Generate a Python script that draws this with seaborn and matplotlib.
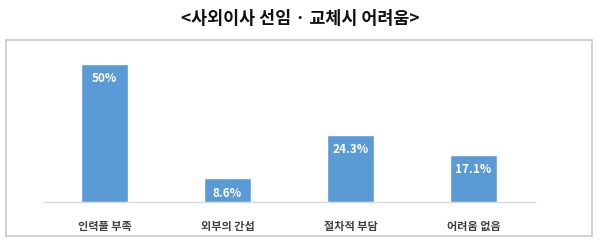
import matplotlib
matplotlib.use("Agg")
import matplotlib.pyplot as plt
import seaborn as sns
import pandas as pd
from matplotlib.patches import Rectangle

categories = ["인력풀 부족", "외부의 간섭", "절차적 부담", "어려움 없음"]
values = [50.0, 8.6, 24.3, 17.1]
value_labels = ["50%", "8.6%", "24.3%", "17.1%"]
title = "<사외이사 선임 · 교체시 어려움>"

sns.set_theme(style="white")
plt.rcParams['font.family'] = ['Noto Sans CJK KR', 'DejaVu Sans']

df = pd.DataFrame({"cat": categories, "val": values})

fig = plt.figure(figsize=(6.0, 2.46), dpi=100)
fig.patch.set_facecolor("white")

# outer frame
frame = Rectangle((6/600, 10/246), 586/600, 196/246, transform=fig.transFigure,
                  facecolor="none", edgecolor="#c8c8c8", linewidth=1.2, zorder=-1)
fig.patches.append(frame)

ax = fig.add_axes([43/600, 44/246, 492/600, 152/246])
ax.set_zorder(2)
ax.set_facecolor("none")
sns.barplot(data=df, x="cat", y="val", color="#5B9BD5", width=0.38,
            saturation=1, ax=ax, zorder=3)
ax.set_xlim(-0.5, 3.5)
ax.set_ylim(0, 55)
ax.set_xlabel("")
ax.set_ylabel("")
ax.set_yticks([])
for s in ["top", "right", "left"]:
    ax.spines[s].set_visible(False)
ax.spines["bottom"].set_color("#d9d9d9")
ax.spines["bottom"].set_linewidth(1.0)
ax.tick_params(axis="x", length=0, pad=13, labelsize=8, colors="#404040")
for t in ax.get_xticklabels():
    t.set_fontweight("bold")

for i, (v, lab) in enumerate(zip(values, value_labels)):
    ax.annotate(lab, (i, v), xytext=(0, -6), textcoords="offset points",
                ha="center", va="top", color="white", fontsize=8.5,
                fontweight="bold")

fig.text(0.5, 1 - 19/246, title, ha="center", va="center", fontsize=12.5,
         fontweight="bold", color="#111111")

fig.savefig("out.png", dpi=100)
